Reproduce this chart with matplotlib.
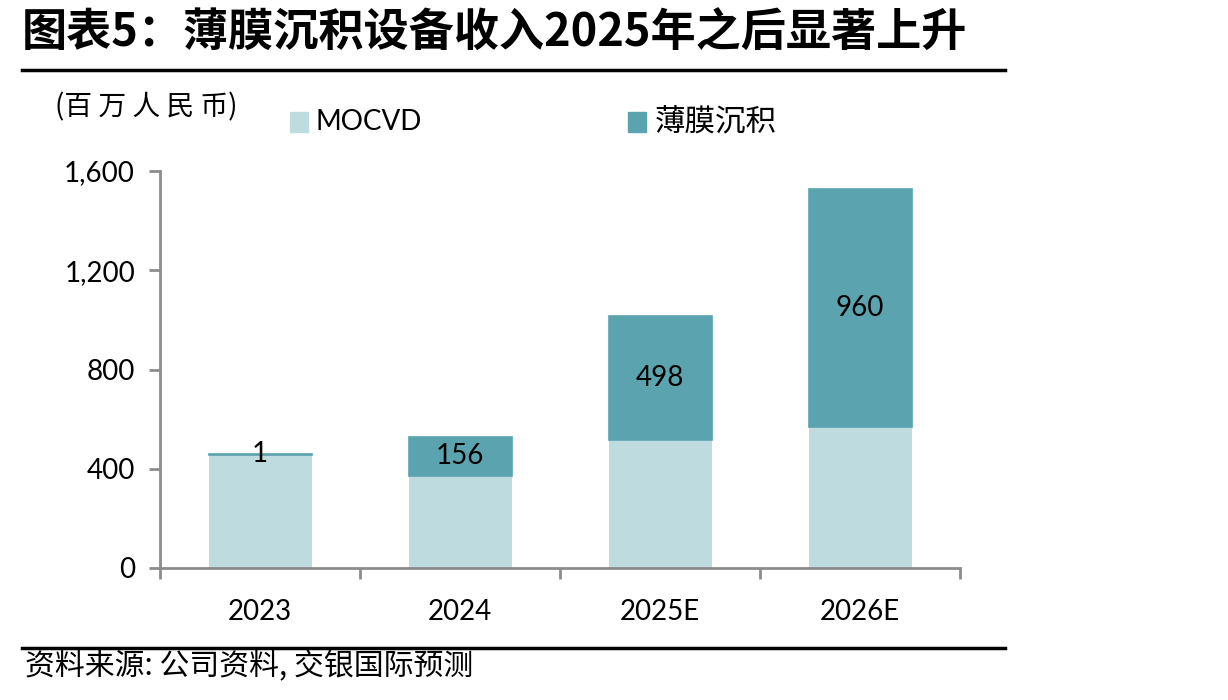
import numpy as np
import matplotlib.pyplot as plt
from matplotlib.patches import Rectangle
from matplotlib.lines import Line2D

plt.rcParams['font.family'] = ['Lato', 'Noto Sans CJK SC', 'DejaVu Sans']

years = ['2023', '2024', '2025E', '2026E']
mocvd = np.array([457, 372, 516, 567])
film = np.array([1, 156, 498, 960])

c_mocvd = '#bedbdf'
c_film = '#5ba3ae'
grey = '#8c8c8c'

fig = plt.figure(figsize=(12.28, 7), dpi=100)
ax = fig.add_axes([160 / 1228, 1 - 568 / 700, 800 / 1228, 397 / 700])

x = np.arange(len(years))
w = 0.515
ax.bar(x, mocvd, w, color=c_mocvd, zorder=2)
ax.bar(x, film, w, bottom=mocvd, color=c_film, edgecolor=c_film,
       linewidth=1.2, zorder=2)

for i, v in enumerate(film):
    ax.text(x[i], mocvd[i] + v / 2, f'{v}', ha='center', va='center',
            fontsize=20, color='black', zorder=3)

ax.set_xlim(-0.5, len(years) - 0.5)
ax.set_ylim(0, 1600)
ax.set_yticks([0, 400, 800, 1200, 1600])
ax.set_yticklabels(['0', '400', '800', '1,200', '1,600'], fontsize=20)
ax.set_xticks(x)
ax.set_xticklabels(years, fontsize=20)
ax.set_xticks(np.arange(-0.5, len(years)), minor=True)
ax.tick_params(axis='x', which='major', length=0, pad=22)
ax.tick_params(axis='x', which='minor', length=8, width=2, color=grey)
ax.tick_params(axis='y', length=8, width=2, color=grey, pad=10)
for s in ['top', 'right']:
    ax.spines[s].set_visible(False)
for s in ['left', 'bottom']:
    ax.spines[s].set_color(grey)
    ax.spines[s].set_linewidth(2)

# title and rules
fig.text(22 / 1228, 1 - 34 / 700, '图表5：薄膜沉积设备收入2025年之后显著上升',
         fontsize=32.5, fontweight='bold', family=['Noto Sans CJK SC'],
         ha='left', va='center')
fig.add_artist(Line2D([22 / 1228, 1005 / 1228], [1 - 70 / 700] * 2,
                      color='black', linewidth=2.5))
fig.add_artist(Line2D([22 / 1228, 1005 / 1228], [1 - 648 / 700] * 2,
                      color='black', linewidth=2.5))
fig.text(25 / 1228, 1 - 667 / 700, '资料来源: 公司资料, 交银国际预测',
         fontsize=21.5, style='italic', family=['Noto Sans CJK SC'],
         ha='left', va='center')

# unit and legend
fig.text(55 / 1228, 1 - 107 / 700, '(百 万 人 民 币)', fontsize=20,
         family=['Noto Sans CJK SC'], ha='left', va='center')
fig.add_artist(Rectangle((290 / 1228, 1 - 132 / 700), 18 / 1228, 20 / 700,
                         color=c_mocvd, transform=fig.transFigure))
fig.text(315 / 1228, 1 - 122 / 700, 'MOCVD', fontsize=20, ha='left', va='center')
fig.add_artist(Rectangle((628 / 1228, 1 - 132 / 700), 18 / 1228, 20 / 700,
                         color=c_film, transform=fig.transFigure))
fig.text(655 / 1228, 1 - 122 / 700, '薄膜沉积', fontsize=22,
         family=['Noto Sans CJK SC'], ha='left', va='center')

fig.savefig('out.png', dpi=100)
